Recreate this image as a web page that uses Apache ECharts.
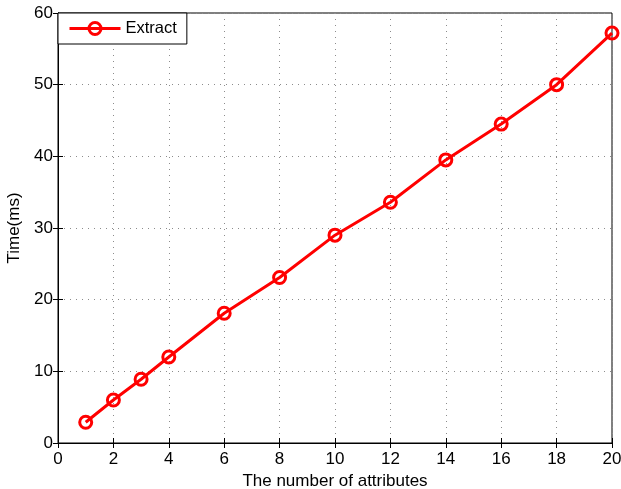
<!DOCTYPE html>
<html>
<head>
<meta charset="utf-8">
<script src="https://cdn.jsdelivr.net/npm/echarts@6/dist/echarts.min.js"></script>
<style>
html, body { margin: 0; padding: 0; background: #fff; }
#main { width: 621px; height: 489px; }
</style>
</head>
<body>
<div id="main"></div>
<script>
var attrs = [1, 2, 3, 4, 6, 8, 10, 12, 14, 16, 18, 20];
var timeMs = [2.9, 6, 8.9, 12, 18.1, 23.1, 29, 33.6, 39.5, 44.5, 50, 57.2];

var myChart = echarts.init(document.getElementById('main'));
var font = 'Liberation Sans, Arial, sans-serif';
var gridLine = { show: true, lineStyle: { color: '#8c8c8c', type: [1, 5], width: 1 } };

var option = {
    backgroundColor: '#fff',
    animation: false,
    textStyle: { fontFamily: font },
    grid: {
        left: 58, right: 9, top: 13, bottom: 46,
        outerBoundsMode: 'none',
        containLabel: false,
        show: true, borderColor: '#000', borderWidth: 1
    },
    legend: {
        left: 58, top: 13,
        data: ['Extract'],
        backgroundColor: '#fff',
        borderColor: '#000', borderWidth: 1, borderRadius: 0,
        padding: [7, 10, 7, 10],
        itemWidth: 51, itemHeight: 15,
        lineStyle: { width: 3 },
        itemStyle: { borderWidth: 3 },
        textStyle: { fontSize: 16.5, color: '#000', fontFamily: font }
    },
    xAxis: [{
        type: 'value', min: 0, max: 20, interval: 2,
        name: 'The number of attributes',
        nameLocation: 'middle', nameGap: 27,
        nameTextStyle: { fontSize: 17, color: '#000' },
        axisLine: { lineStyle: { color: '#000', width: 1 } },
        axisTick: { inside: true, length: 5, lineStyle: { color: '#000' } },
        axisLabel: { fontSize: 17, color: '#000', margin: 8 },
        splitLine: gridLine
    }, {
        type: 'value', min: 0, max: 20, interval: 2, position: 'top',
        axisLine: { lineStyle: { color: '#000' } },
        axisTick: { inside: true, length: 5, lineStyle: { color: '#000' } },
        axisLabel: { show: false },
        splitLine: { show: false }
    }],
    yAxis: [{
        type: 'value', min: 0, max: 60, interval: 10,
        name: 'Time(ms)',
        nameLocation: 'middle', nameGap: 32,
        nameTextStyle: { fontSize: 17, color: '#000' },
        axisLine: { show: true, lineStyle: { color: '#000', width: 1 } },
        axisTick: { show: true, inside: true, length: 5, lineStyle: { color: '#000' } },
        axisLabel: { fontSize: 17, color: '#000', margin: 5 },
        splitLine: gridLine
    }, {
        type: 'value', min: 0, max: 60, interval: 10, position: 'right',
        axisLine: { show: true, lineStyle: { color: '#000' } },
        axisTick: { show: true, inside: true, length: 5, lineStyle: { color: '#000' } },
        axisLabel: { show: false },
        splitLine: { show: false }
    }],
    series: [{
        name: 'Extract',
        type: 'line',
        data: attrs.map(function (a, i) { return [a, timeMs[i]]; }),
        symbol: 'circle',
        symbolSize: 12,
        color: '#ff0000',
        lineStyle: { color: '#ff0000', width: 3 },
        itemStyle: { color: 'rgba(255,255,255,0)', borderColor: '#ff0000', borderWidth: 3 },
        z: 3
    }]
};
myChart.setOption(option);
</script>
</body>
</html>
